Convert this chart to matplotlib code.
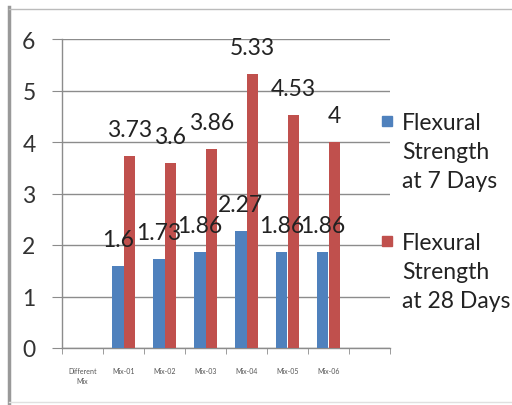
import numpy as np
import matplotlib
matplotlib.use("Agg")
import matplotlib.pyplot as plt
from matplotlib.patches import Rectangle
from matplotlib.lines import Line2D

plt.rcParams['font.family'] = ['Lato', 'DejaVu Sans']

# data
categories = ["Different\nMix", "Mix-01", "Mix-02", "Mix-03", "Mix-04", "Mix-05", "Mix-06", ""]
mixes = ["Mix-01", "Mix-02", "Mix-03", "Mix-04", "Mix-05", "Mix-06"]
days7 = [1.6, 1.73, 1.86, 2.27, 1.86, 1.86]
days28 = [3.73, 3.6, 3.86, 5.33, 4.53, 4.0]
series_names = ["Flexural\nStrength\nat 7 Days", "Flexural\nStrength\nat 28 Days"]
colors = ["#4F81BD", "#C0504D"]

W, H = 512, 406
fig = plt.figure(figsize=(W / 100, H / 100), dpi=100)
ax = fig.add_axes([62 / W, 1 - 349 / H, (390 - 62) / W, (349 - 40) / H])

grid_c = "#8c8c8c"
w = 1 / 3.5
pos = np.array([categories.index(m) for m in mixes], dtype=float)

for k, (vals, c) in enumerate(zip([days7, days28], colors)):
    xs = pos + (k - 0.5) * w
    ax.bar(xs, vals, width=w, color=c, zorder=3)
    for x, v in zip(xs, vals):
        ax.annotate(f"{v:g}", (x, v), xytext=(0, 19), textcoords="offset points",
                    ha="center", va="center", fontsize=16.5, color="#222222", zorder=4)

ax.set_ylim(0, 6)
ax.set_xlim(-0.5, len(categories) - 0.5)
ax.set_yticks(range(0, 7))
ax.yaxis.grid(True, color=grid_c, linewidth=1.0)
ax.set_axisbelow(True)

ax.set_xticks(np.arange(len(categories)))
ax.set_xticklabels(categories, fontsize=5, color="#555555", linespacing=1.5, va="top")
ax.set_xticks(np.arange(len(categories) + 1) - 0.5, minor=True)
ax.tick_params(axis="x", which="major", length=0, pad=14)
ax.tick_params(axis="x", which="minor", length=4, color=grid_c, direction="out")
ax.tick_params(axis="y", length=7, color=grid_c, labelsize=16.5, labelcolor="#333333", pad=12)

for s in ["top", "right"]:
    ax.spines[s].set_visible(False)
for s in ["left", "bottom"]:
    ax.spines[s].set_color(grid_c)
    ax.spines[s].set_linewidth(1.0)

# legend drawn by hand
legend_y = [122, 242]
for name, c, yc in zip(series_names, colors, legend_y):
    fig.patches.append(Rectangle((382 / W, 1 - (yc + 5) / H), 10 / W, 10 / H,
                                 transform=fig.transFigure, color=c))
    fig.text(402 / W, 1 - (yc - 9) / H, name, fontsize=16.5, color="#222222",
             va="top", ha="left", linespacing=1.47)

# outer frame lines
fig.add_artist(Line2D([8.5 / W, 8.5 / W], [0, 1 - 8 / H], color="#999999", linewidth=2.5))
fig.add_artist(Line2D([8.5 / W, 1], [1 - 10 / H, 1 - 10 / H], color="#bbbbbb", linewidth=1))
fig.add_artist(Line2D([8.5 / W, 1], [1 - 403 / H, 1 - 403 / H], color="#e0e0e0", linewidth=1))

fig.savefig("out.png", dpi=100)
